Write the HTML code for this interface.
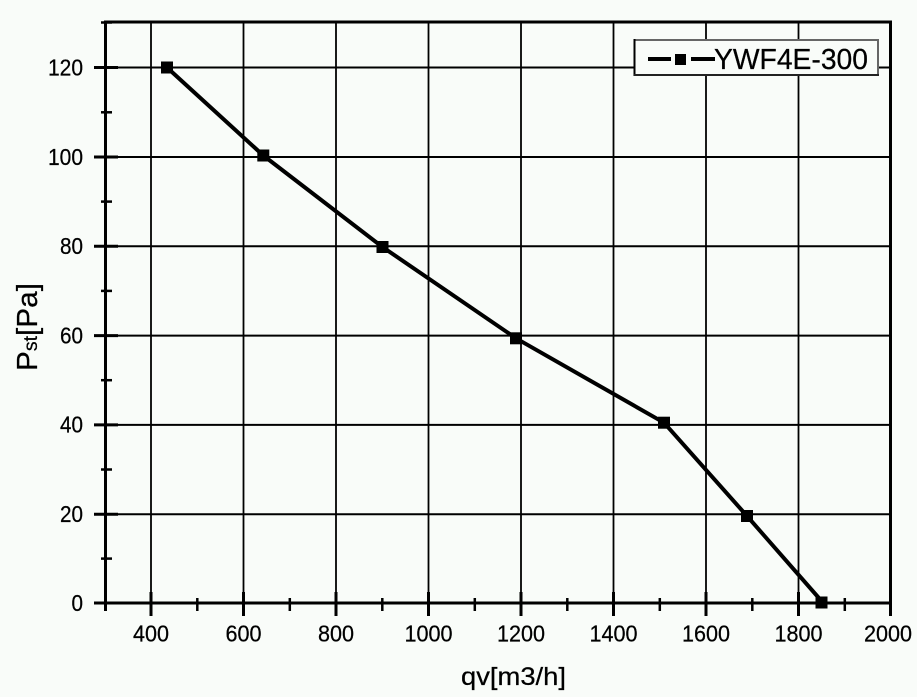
<!DOCTYPE html>
<html><head><meta charset="utf-8"><style>
html,body{margin:0;padding:0;background:#f9fcf9;}
svg{display:block;}
text{font-family:"Liberation Sans",Arial,sans-serif;fill:#000;}
</style></head><body>
<svg width="917" height="697" viewBox="0 0 917 697" xmlns="http://www.w3.org/2000/svg">
<rect x="0" y="0" width="917" height="697" fill="#f9fcf9"/>
<!-- grid vertical -->
<g stroke="#000" stroke-width="1.8">
<line x1="151" y1="22" x2="151" y2="603"/>
<line x1="243.5" y1="22" x2="243.5" y2="603"/>
<line x1="336" y1="22" x2="336" y2="603"/>
<line x1="428.5" y1="22" x2="428.5" y2="603"/>
<line x1="521" y1="22" x2="521" y2="603"/>
<line x1="613.5" y1="22" x2="613.5" y2="603"/>
<line x1="706" y1="22" x2="706" y2="603"/>
<line x1="798.5" y1="22" x2="798.5" y2="603"/>
</g>
<!-- grid horizontal -->
<g stroke="#000" stroke-width="2">
<line x1="105" y1="514.2" x2="891" y2="514.2"/>
<line x1="105" y1="424.9" x2="891" y2="424.9"/>
<line x1="105" y1="335.6" x2="891" y2="335.6"/>
<line x1="105" y1="246.3" x2="891" y2="246.3"/>
<line x1="105" y1="157" x2="891" y2="157"/>
<line x1="105" y1="67.5" x2="891" y2="67.5"/>
</g>
<!-- frame -->
<rect x="105.5" y="22" width="785" height="581" fill="none" stroke="#000" stroke-width="3"/>
<!-- y ticks major -->
<g stroke="#000" stroke-width="3">
<line x1="94" y1="603" x2="118" y2="603"/>
<line x1="94" y1="514.2" x2="118" y2="514.2"/>
<line x1="94" y1="424.9" x2="118" y2="424.9"/>
<line x1="94" y1="335.6" x2="118" y2="335.6"/>
<line x1="94" y1="246.3" x2="118" y2="246.3"/>
<line x1="94" y1="157" x2="118" y2="157"/>
<line x1="94" y1="67.5" x2="118" y2="67.5"/>
</g>
<g stroke="#000" stroke-width="2.5">
<line x1="101" y1="558.6" x2="112" y2="558.6"/>
<line x1="101" y1="469.5" x2="112" y2="469.5"/>
<line x1="101" y1="380.2" x2="112" y2="380.2"/>
<line x1="101" y1="290.9" x2="112" y2="290.9"/>
<line x1="101" y1="201.6" x2="112" y2="201.6"/>
<line x1="101" y1="112.3" x2="112" y2="112.3"/>
<line x1="101" y1="22.5" x2="112" y2="22.5"/>
</g>
<!-- x ticks -->
<g stroke="#000" stroke-width="3">
<line x1="151" y1="592" x2="151" y2="616"/>
<line x1="243.5" y1="592" x2="243.5" y2="616"/>
<line x1="336" y1="592" x2="336" y2="616"/>
<line x1="428.5" y1="592" x2="428.5" y2="616"/>
<line x1="521" y1="592" x2="521" y2="616"/>
<line x1="613.5" y1="592" x2="613.5" y2="616"/>
<line x1="706" y1="592" x2="706" y2="616"/>
<line x1="798.5" y1="592" x2="798.5" y2="616"/>
<line x1="890.5" y1="592" x2="890.5" y2="616"/>
<line x1="105.5" y1="598" x2="105.5" y2="611"/>
</g>
<g stroke="#000" stroke-width="2.5">
<line x1="197.3" y1="598" x2="197.3" y2="611"/>
<line x1="289.8" y1="598" x2="289.8" y2="611"/>
<line x1="382.3" y1="598" x2="382.3" y2="611"/>
<line x1="474.8" y1="598" x2="474.8" y2="611"/>
<line x1="567.3" y1="598" x2="567.3" y2="611"/>
<line x1="659.8" y1="598" x2="659.8" y2="611"/>
<line x1="752.3" y1="598" x2="752.3" y2="611"/>
<line x1="844.8" y1="598" x2="844.8" y2="611"/>
</g>
<!-- data -->
<polyline points="167,67.5 263.3,155.5 382.5,247 516,338.3 664,422.7 747,516 821.5,601" fill="none" stroke="#000" stroke-width="4" stroke-linejoin="round"/>
<g fill="#000">
<rect x="161" y="61.5" width="12" height="12"/>
<rect x="257.3" y="149.5" width="12" height="12"/>
<rect x="376.5" y="241" width="12" height="12"/>
<rect x="510" y="332.3" width="12" height="12"/>
<rect x="658" y="416.7" width="12" height="12"/>
<rect x="741" y="510" width="12" height="12"/>
<rect x="815.5" y="596.5" width="12" height="12"/>
</g>
<line x1="105" y1="603" x2="891" y2="603" stroke="#000" stroke-width="3"/>
<!-- y tick labels -->
<g font-size="23" text-anchor="end" stroke="#000" stroke-width="0.25">
<text x="83" y="611" textLength="11.5" lengthAdjust="spacingAndGlyphs">0</text>
<text x="83" y="522" textLength="23" lengthAdjust="spacingAndGlyphs">20</text>
<text x="83" y="432.7" textLength="23" lengthAdjust="spacingAndGlyphs">40</text>
<text x="83" y="343.4" textLength="23" lengthAdjust="spacingAndGlyphs">60</text>
<text x="83" y="254.1" textLength="23" lengthAdjust="spacingAndGlyphs">80</text>
<text x="83" y="164.8" textLength="35" lengthAdjust="spacingAndGlyphs">100</text>
<text x="83" y="75.3" textLength="35" lengthAdjust="spacingAndGlyphs">120</text>
</g>
<!-- x tick labels -->
<g font-size="23" text-anchor="middle" stroke="#000" stroke-width="0.25">
<text x="151" y="641.5" textLength="36" lengthAdjust="spacingAndGlyphs">400</text>
<text x="243.5" y="641.5" textLength="36" lengthAdjust="spacingAndGlyphs">600</text>
<text x="336" y="641.5" textLength="36" lengthAdjust="spacingAndGlyphs">800</text>
<text x="428.5" y="641.5" textLength="48" lengthAdjust="spacingAndGlyphs">1000</text>
<text x="521" y="641.5" textLength="48" lengthAdjust="spacingAndGlyphs">1200</text>
<text x="613.5" y="641.5" textLength="48" lengthAdjust="spacingAndGlyphs">1400</text>
<text x="706" y="641.5" textLength="48" lengthAdjust="spacingAndGlyphs">1600</text>
<text x="798.5" y="641.5" textLength="48" lengthAdjust="spacingAndGlyphs">1800</text>
<text x="888" y="641.5" textLength="48" lengthAdjust="spacingAndGlyphs">2000</text>
</g>
<!-- axis titles -->
<text x="461" y="685" font-size="25" textLength="105" lengthAdjust="spacingAndGlyphs" stroke="#000" stroke-width="0.25">qv[m3/h]</text>
<text transform="translate(37,371) rotate(-90)" font-size="29" textLength="88" lengthAdjust="spacingAndGlyphs" stroke="#000" stroke-width="0.25">P<tspan font-size="19">st</tspan>[Pa]</text>
<!-- legend -->
<rect x="634" y="39" width="245" height="37" fill="#f9fcf9"/>
<line x1="634" y1="40" x2="879" y2="40" stroke="#666" stroke-width="2"/>
<line x1="878" y1="39" x2="878" y2="76" stroke="#666" stroke-width="2"/>
<line x1="634.5" y1="39" x2="634.5" y2="76" stroke="#000" stroke-width="2"/>
<line x1="634" y1="75" x2="879" y2="75" stroke="#222" stroke-width="2"/>
<line x1="648" y1="59" x2="671" y2="59" stroke="#000" stroke-width="4"/>
<rect x="675" y="54" width="11" height="11" fill="#000"/>
<line x1="691" y1="59" x2="715" y2="59" stroke="#000" stroke-width="4"/>
<text x="714" y="69" font-size="29" textLength="154" lengthAdjust="spacingAndGlyphs" stroke="#000" stroke-width="0.25">YWF4E-300</text>
</svg>
</body></html>
